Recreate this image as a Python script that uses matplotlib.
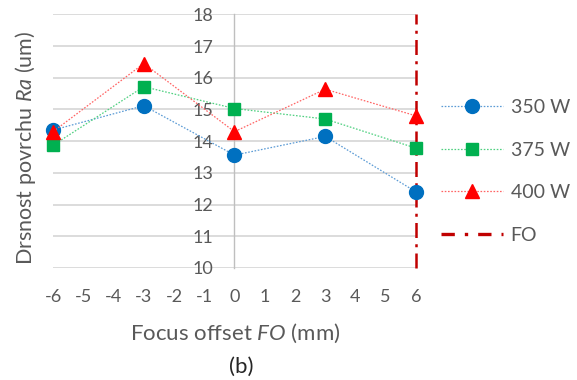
import matplotlib
matplotlib.use("Agg")
import matplotlib.pyplot as plt
from matplotlib.lines import Line2D

plt.rcParams['font.family'] = ['Lato', 'DejaVu Sans']
plt.rcParams['mathtext.fontset'] = 'custom'
plt.rcParams['mathtext.rm'] = 'Lato'
plt.rcParams['mathtext.it'] = 'Lato:italic'
plt.rcParams['axes.unicode_minus'] = False

# Focus offset positions and measured roughness Ra for each laser power
focus_offset = [-6, -3, 0, 3, 6]
ra_350 = [14.35, 15.12, 13.56, 14.15, 12.40]
ra_375 = [13.87, 15.72, 15.03, 14.70, 13.78]
ra_400 = [14.30, 16.45, 14.30, 15.64, 14.80]
series_labels = ['350 W', '375 W', '400 W']
fo_position = 6
x_ticks = list(range(-6, 7))
y_ticks = list(range(10, 19))

text_gray = '#595959'
grid_gray = '#D9D9D9'
fo_red = '#C00000'
fo_dash = (0, (6, 2.5, 1.2, 2.5))

fig = plt.figure(figsize=(5.77, 3.80), dpi=100)
ax = fig.add_axes([0.0919, 0.295, 0.629, 0.667])

ax.set_xlim(-6, 6)
ax.set_ylim(10, 18)
ax.set_xticks(x_ticks)
ax.set_yticks(y_ticks)

for s in ['top', 'right', 'bottom']:
    ax.spines[s].set_visible(False)
ax.spines['left'].set_position(('data', 0))
ax.spines['left'].set_color('#BFBFBF')
ax.spines['left'].set_linewidth(1.0)

ax.yaxis.grid(True, color=grid_gray, linewidth=1.3)
ax.set_axisbelow(True)
ax.tick_params(axis='both', length=0, labelsize=13, colors=text_gray)
ax.tick_params(axis='y', pad=15)
ax.tick_params(axis='x', pad=15)

styles = [
    (ra_350, '#0070C0', '#5B9BD5', 'o', 10),
    (ra_375, '#00B050', '#4FD080', 's', 9),
    (ra_400, '#FF0000', '#FF6464', '^', 10.5),
]
dot_style = (0, (1.3, 1.3))
handles = []
for (vals, mcol, lcol, mk, ms), lab in zip(styles, series_labels):
    ax.plot(focus_offset, vals, linestyle=dot_style, color=lcol, linewidth=0.9,
            marker=mk, markersize=ms, markerfacecolor=mcol, markeredgecolor=mcol,
            zorder=3, clip_on=False)
    handles.append(Line2D([], [], linestyle=dot_style, color=lcol, linewidth=0.9,
                          marker=mk, markersize=ms, markerfacecolor=mcol,
                          markeredgecolor=mcol, label=lab))

ax.axvline(fo_position, color=fo_red, linewidth=1.8, linestyle=fo_dash,
           zorder=2.5, clip_on=False)
handles.append(Line2D([], [], color=fo_red, linewidth=2.4,
                      linestyle=(0, (4, 3, 1, 3)), label='FO'))

fig.legend(handles=handles, loc='center left', bbox_to_anchor=(0.757, 0.549),
           frameon=False, fontsize=14, handlelength=3.2, handletextpad=0.4,
           labelspacing=1.32, borderpad=0.2, borderaxespad=0.0,
           labelcolor=text_gray)

fig.text(0.045, 0.61, 'Drsnost povrchu $\\mathit{Ra}$ (um)', rotation=90,
         ha='center', va='center', fontsize=15.5, color=text_gray)
fig.text(0.407, 0.124, 'Focus offset $\\mathit{FO}$ (mm)', ha='center', va='center',
         fontsize=16, color=text_gray)
fig.text(0.418, 0.035, '(b)', ha='center', va='center', fontsize=16, color='#262626')

fig.savefig('out.png', dpi=100)
